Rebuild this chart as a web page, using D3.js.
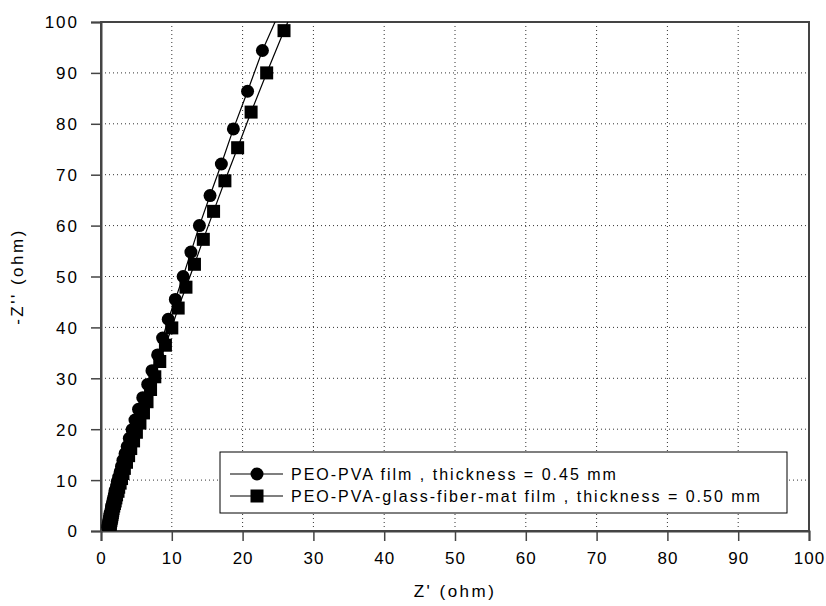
<!DOCTYPE html>
<html>
<head>
<meta charset="utf-8">
<script src="https://cdn.jsdelivr.net/npm/d3@7"></script>
<style>
  body { margin: 0; background: #fff; }
  text { font-family: "Liberation Sans", Arial, sans-serif; fill: #000; }
</style>
</head>
<body>
<div id="chart"></div>
<script>
// PEO-PVA film (circles)
var filmRe = [25.6, 22.8, 20.7, 18.7, 17.0, 15.4, 13.9, 12.7, 11.6, 10.5, 9.5, 8.7, 8.0, 7.2, 6.6, 5.9, 5.3, 4.8, 4.4, 4.0, 3.7, 3.4, 3.1, 2.9, 2.7, 2.5, 2.3, 2.2, 2.0, 1.9, 1.8, 1.7, 1.6, 1.5, 1.45, 1.4, 1.3, 1.25, 1.2, 1.15, 1.1, 1.05, 1.0, 1.0, 0.95];
var filmIm = [103.2, 94.4, 86.4, 79.0, 72.1, 65.9, 60.0, 54.8, 50.0, 45.5, 41.6, 37.9, 34.6, 31.5, 28.8, 26.2, 23.9, 21.8, 19.9, 18.2, 16.6, 15.2, 13.9, 12.7, 11.6, 10.6, 9.7, 8.8, 8.0, 7.3, 6.6, 6.0, 5.4, 4.9, 4.4, 3.9, 3.5, 3.1, 2.7, 2.3, 2.0, 1.6, 1.3, 1.0, 0.7];
// PEO-PVA-glass-fiber-mat film (squares)
var matRe = [28.6, 25.85, 23.4, 21.2, 19.3, 17.5, 15.9, 14.45, 13.2, 12.0, 10.9, 10.0, 9.1, 8.3, 7.6, 7.0, 6.5, 6.0, 5.5, 5.0, 4.6, 4.2, 3.9, 3.6, 3.3, 3.1, 2.9, 2.7, 2.5, 2.4, 2.2, 2.1, 2.0, 1.9, 1.8, 1.7, 1.65, 1.6, 1.55, 1.5, 1.45, 1.4, 1.35, 1.3, 1.3, 1.25, 1.2];
var matIm = [107.0, 98.3, 90.0, 82.3, 75.3, 68.8, 62.8, 57.3, 52.4, 47.9, 43.8, 39.9, 36.5, 33.3, 30.3, 27.8, 25.4, 23.2, 21.2, 19.4, 17.7, 16.2, 14.8, 13.5, 12.3, 11.3, 10.3, 9.4, 8.6, 7.8, 7.1, 6.5, 5.9, 5.4, 4.9, 4.4, 4.0, 3.6, 3.2, 2.8, 2.5, 2.1, 1.8, 1.5, 1.2, 0.9, 0.6];

var xTicks = [0, 10, 20, 30, 40, 50, 60, 70, 80, 90, 100];
var yTicks = [0, 10, 20, 30, 40, 50, 60, 70, 80, 90, 100];
var legendLabels = ["PEO-PVA film , thickness = 0.45 mm", "PEO-PVA-glass-fiber-mat film , thickness = 0.50 mm"];

var W = 826, H = 606;
var margin = {top: 22, right: 17, bottom: 75, left: 101};
var width = W - margin.left - margin.right,
    height = H - margin.top - margin.bottom;

var svg = d3.select("#chart").append("svg")
    .attr("width", W).attr("height", H);
var g = svg.append("g")
    .attr("transform", "translate(" + margin.left + "," + margin.top + ")");

var x = d3.scaleLinear().domain([0, 100]).range([0, width]);
var y = d3.scaleLinear().domain([0, 100]).range([height, 0]);

// dotted grid
g.append("g").selectAll("line").data(xTicks.slice(1, -1)).join("line")
    .attr("x1", d => x(d)).attr("x2", d => x(d))
    .attr("y1", 0).attr("y2", height)
    .attr("stroke", "#333").attr("stroke-width", 1).attr("stroke-dasharray", "1,3");
g.append("g").selectAll("line").data(yTicks.slice(1, -1)).join("line")
    .attr("y1", d => y(d)).attr("y2", d => y(d))
    .attr("x1", 0).attr("x2", width)
    .attr("stroke", "#333").attr("stroke-width", 1).attr("stroke-dasharray", "1,3");

// frame
g.append("rect").attr("x", 0).attr("y", 0).attr("width", width).attr("height", height)
    .attr("fill", "none").attr("stroke", "#444").attr("stroke-width", 2);

// axes
var xAxis = g.append("g").attr("transform", "translate(0," + height + ")")
    .call(d3.axisBottom(x).tickValues(xTicks).tickSize(10).tickPadding(11));
var yAxis = g.append("g")
    .call(d3.axisLeft(y).tickValues(yTicks).tickSize(10).tickPadding(12));
[xAxis, yAxis].forEach(function(a) {
  a.select(".domain").attr("stroke", "#444").attr("stroke-width", 2);
  a.selectAll(".tick line").attr("stroke", "#444").attr("stroke-width", 1.5);
  a.selectAll(".tick text")
    .style("font-family", "'Liberation Sans', Arial, sans-serif")
    .style("font-size", "17px").style("letter-spacing", "2px").attr("fill", "#000");
});
yAxis.selectAll(".tick text").attr("dy", "0.35em");
xAxis.selectAll(".tick text").style("letter-spacing", "1px");

// axis titles
svg.append("text").attr("x", margin.left + width / 2).attr("y", 597)
    .attr("text-anchor", "middle").style("font-size", "17px").style("letter-spacing", "2.5px")
    .text("Z' (ohm)");
svg.append("text").attr("transform", "translate(23," + (margin.top + height / 2) + ") rotate(-90)")
    .attr("text-anchor", "middle").style("font-size", "17px").style("letter-spacing", "2.5px")
    .text("-Z'' (ohm)");

// data
var clip = g.append("clipPath").attr("id", "plotclip")
    .append("rect").attr("width", width).attr("height", height);
var plot = g.append("g").attr("clip-path", "url(#plotclip)");

var film = filmRe.map((d, i) => ({re: d, im: filmIm[i]}));
var mat = matRe.map((d, i) => ({re: d, im: matIm[i]}));
var line = d3.line().x(d => x(d.re)).y(d => y(d.im));

plot.append("path").datum(film).attr("d", line)
    .attr("fill", "none").attr("stroke", "#000").attr("stroke-width", 1.2);
plot.append("path").datum(mat).attr("d", line)
    .attr("fill", "none").attr("stroke", "#000").attr("stroke-width", 1.2);

plot.selectAll(".sq").data(mat).join("rect").attr("class", "sq")
    .attr("x", d => x(d.re) - 6.5).attr("y", d => y(d.im) - 6.5)
    .attr("width", 13).attr("height", 13).attr("fill", "#000");
plot.selectAll(".ci").data(film).join("circle").attr("class", "ci")
    .attr("cx", d => x(d.re)).attr("cy", d => y(d.im))
    .attr("r", 6.5).attr("fill", "#000");

// legend
var lg = svg.append("g").attr("transform", "translate(220,452)");
lg.append("rect").attr("width", 567).attr("height", 61)
    .attr("fill", "#fff").attr("stroke", "#000").attr("stroke-width", 1);
legendLabels.forEach(function(label, i) {
  var cy = 22 + i * 22;
  lg.append("line").attr("x1", 10).attr("x2", 63).attr("y1", cy).attr("y2", cy)
    .attr("stroke", "#000").attr("stroke-width", 1.2);
  if (i === 0) {
    lg.append("circle").attr("cx", 37).attr("cy", cy).attr("r", 6.5).attr("fill", "#000");
  } else {
    lg.append("rect").attr("x", 30.5).attr("y", cy - 6.5).attr("width", 13).attr("height", 13).attr("fill", "#000");
  }
  lg.append("text").attr("x", 71).attr("y", cy).attr("dy", "0.36em")
    .style("font-size", "16px").style("letter-spacing", "2px").text(label);
});
</script>
</body>
</html>
